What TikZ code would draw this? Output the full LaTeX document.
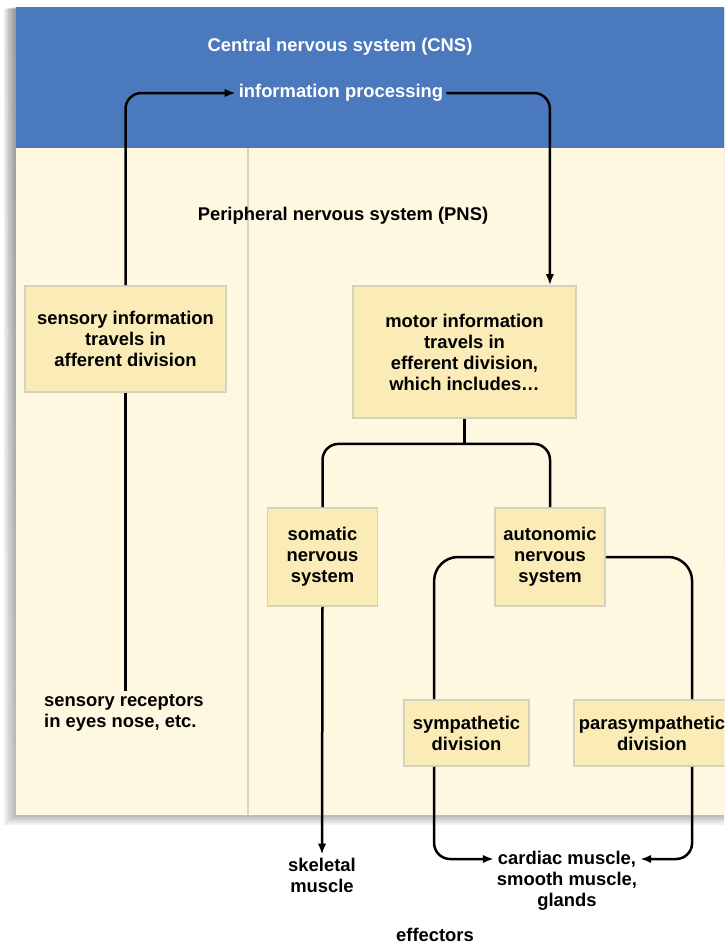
\documentclass[tikz,border=0pt]{standalone}
\usepackage{fontspec}
\setmainfont{Liberation Sans}
\usetikzlibrary{arrows.meta,calc}
\definecolor{cnsblue}{HTML}{4A79BD}
\definecolor{cream}{HTML}{FEF8E1}
\definecolor{boxfill}{HTML}{FBEBB6}
\definecolor{boxline}{HTML}{D6D2C2}
\definecolor{divline}{HTML}{D9D4C4}
\definecolor{shade}{HTML}{9AAAC6}
\begin{document}
\begin{tikzpicture}[x=1pt,y=-1pt,
  lab/.style={font=\bfseries\fontsize{18.4}{21}\selectfont, align=center, inner sep=3pt},
  wlab/.style={lab, text=white},
  infobox/.style={lab, draw=boxline, line width=1.8pt, fill=boxfill, inner sep=0pt},
  conn/.style={line width=2.5pt, rounded corners=16pt},
  wide/.style={rounded corners=24pt},
  tip/.style={-{Latex[length=11pt,width=8.5pt]}},
]
\useasboundingbox (0,0) rectangle (724,946);
\clip (0,0) rectangle (724,946);
% shadow of the panel
\foreach \i in {1,...,6}
  \fill[shade, opacity=0.06] (16-2*\i,7+0.3*\i) rectangle (740,815+1.6*\i);
% panel
\fill[cream] (16,148) rectangle (740,815);
\fill[cnsblue] (16,7) rectangle (740,148);
\draw[divline, line width=1.2pt] (248,148) -- (248,815);
% titles
\node[wlab] (cns) at (340,47) {Central nervous system (CNS)};
\node[wlab] (info) at (341,93) {information processing};
\node[lab] (pns) at (343,216) {Peripheral nervous system (PNS)};
% boxes
\node[infobox, minimum width=201pt, minimum height=106pt] (sens) at (125.5,339) {sensory information\\travels in\\afferent division};
\node[infobox, minimum width=223pt, minimum height=132pt] (motor) at (464.5,352) {motor information\\travels in\\efferent division,\\which includes…};
\node[infobox, minimum width=110pt, minimum height=98pt] (som) at (322.5,557) {somatic\\nervous\\system};
\node[infobox, minimum width=110pt, minimum height=98pt] (aut) at (550,557) {autonomic\\nervous\\system};
\node[infobox, minimum width=125pt, minimum height=66pt] (sym) at (466.5,733) {sympathetic\\division};
\node[infobox, minimum width=156pt, minimum height=66pt] (para) at (652,733) {parasympathetic\\division};
% plain labels
\node[lab, align=left, anchor=west] (rec) at (41,713) {sensory receptors\\in eyes nose, etc.};
\node[lab] (skel) at (322,875) {skeletal\\muscle};
\node[lab] (card) at (567,881) {cardiac muscle,\\smooth muscle,\\glands};
\node[lab] (eff) at (435,935) {effectors};
% connectors
\draw[conn, tip] (sens.north) |- (info.west);
\draw[conn, tip] (info.east) -| ([xshift=-27pt]motor.north east);
\draw[conn] (sens.south) -- (sens.south |- rec.north);
\draw[conn] (motor.south) -- ++(0,25) coordinate (split);
\draw[conn] (som.north) |- (split) -| (aut.north);
\draw[conn, wide] (aut.west) -| ([xshift=31pt]sym.north west);
\draw[conn, wide] (aut.east) -| ([xshift=119pt]para.north west);
\draw[conn, tip] (som.south) -- (skel.north);
\draw[conn, tip] ([xshift=31pt]sym.south west) |- ([yshift=22pt]card.west);
\draw[conn, tip] ([xshift=119pt]para.south west) |- ([yshift=22pt]card.east);
\end{tikzpicture}
\end{document}
